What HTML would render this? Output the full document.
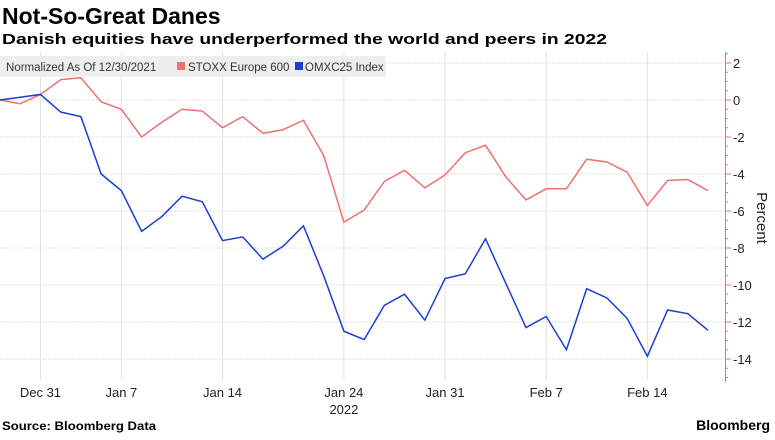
<!DOCTYPE html>
<html><head><meta charset="utf-8"><style>
body{margin:0;background:#fff;font-family:"Liberation Sans",sans-serif;}
svg text{font-family:"Liberation Sans",sans-serif;}
</style></head><body>
<svg id="c" width="775" height="435" xmlns="http://www.w3.org/2000/svg">
<text x="2" y="24" font-size="23" font-weight="bold" fill="#000">Not-So-Great Danes</text>
<text x="2" y="44" font-size="15" font-weight="bold" fill="#000" textLength="605" lengthAdjust="spacingAndGlyphs">Danish equities have underperformed the world and peers in 2022</text>
<g id="grid"></g>
<rect x="0" y="56" width="386" height="21" fill="#eeeeee"/>
<text x="6" y="71" font-size="11.5" fill="#333">Normalized As Of 12/30/2021</text>
<rect x="177" y="62" width="8" height="8" fill="#f07070"/>
<text x="188" y="71" font-size="11.5" fill="#333">STOXX Europe 600</text>
<rect x="295" y="62" width="8" height="8" fill="#1a3fd0"/>
<text x="305" y="71" font-size="11.5" fill="#333">OMXC25 Index</text>
<g id="series"></g>
<g id="axis"></g>
<text transform="translate(757,218) rotate(90)" font-size="15" text-anchor="middle" fill="#222">Percent</text>
<text x="2" y="430" font-size="11.5" font-weight="bold" fill="#000" textLength="154" lengthAdjust="spacingAndGlyphs">Source: Bloomberg Data</text>
<text x="770" y="430" font-size="14" font-weight="bold" text-anchor="end" fill="#000">Bloomberg</text>
</svg>
<script>
const stoxx=[0,-0.2,0.3,1.1,1.2,-0.1,-0.5,-2.0,-1.2,-0.5,-0.6,-1.5,-0.9,-1.8,-1.6,-1.1,-3.0,-6.6,-5.95,-4.4,-3.8,-4.75,-4.05,-2.85,-2.45,-4.15,-5.4,-4.8,-4.8,-3.2,-3.35,-3.9,-5.7,-4.35,-4.3,-4.9];
const omx=[0,0.15,0.3,-0.65,-0.9,-4.0,-4.9,-7.1,-6.3,-5.2,-5.5,-7.6,-7.4,-8.6,-7.9,-6.8,-9.5,-12.5,-12.95,-11.1,-10.5,-11.9,-9.65,-9.4,-7.5,-9.9,-12.3,-11.7,-13.5,-10.2,-10.7,-11.8,-13.85,-11.35,-11.55,-12.45];
const xLabels=["Dec 31","Jan 7","Jan 14","Jan 24","Jan 31","Feb 7","Feb 14"];
const xLabelIdx=[2,6,11,17,22,27,32];
const yTicks=[2,0,-2,-4,-6,-8,-10,-12,-14];
const NS="http://www.w3.org/2000/svg";
const xs=i=>i*20.23;
const ys=v=>100-v*18.5;
function mk(t,a,p){const e=document.createElementNS(NS,t);for(const k in a)e.setAttribute(k,a[k]);p.appendChild(e);return e;}
const grid=document.getElementById('grid'),axis=document.getElementById('axis'),ser=document.getElementById('series');
yTicks.forEach(v=>{
 const l=mk('line',{x1:0,x2:725,y1:ys(v),y2:ys(v),stroke:'#e2e2e2','stroke-width':1,'stroke-dasharray':'2,1'},grid);
 
 
 const t=mk('line',{x1:725,x2:731,y1:ys(v),y2:ys(v),stroke:'#f07070'},axis);
 
 
 const tx=mk('text',{x:733,y:ys(v)+5,'font-size':13,fill:'#222'},axis);
 tx.textContent=(v<0?'-':'')+Math.abs(v);
 
 
});
for(let v=2.5;v>=-15;v-=0.5){if(Math.abs(v%2)<1e-9)continue;
 const m=mk('line',{x1:725,x2:728,y1:ys(v),y2:ys(v),stroke:'#f07070'},axis);
 
 }
const ax=mk('line',{x1:725.5,x2:725.5,y1:52,y2:382,stroke:'#f07070'},axis);


xLabels.forEach((s,k)=>{
 const x=xs(xLabelIdx[k]);
 const g=mk('line',{x1:x,x2:x,y1:52,y2:380,stroke:'#e2e2e2'},grid);
 
 
 const t=mk('text',{x:x,y:397,'font-size':13,'text-anchor':'middle',fill:'#222'},axis);
 t.textContent=s;
 
 
});
const yr=mk('text',{x:xs(17),y:414,'font-size':13,'text-anchor':'middle',fill:'#222'},axis);
yr.textContent='2022';


const p1=mk('polyline',{points:stoxx.map((v,i)=>xs(i)+','+ys(v)).join(' '),fill:'none',stroke:'#f07070','stroke-width':1.5},ser);


const p2=mk('polyline',{points:omx.map((v,i)=>xs(i)+','+ys(v)).join(' '),fill:'none',stroke:'#1a3fd0','stroke-width':1.5},ser);


</script>
</body></html>
